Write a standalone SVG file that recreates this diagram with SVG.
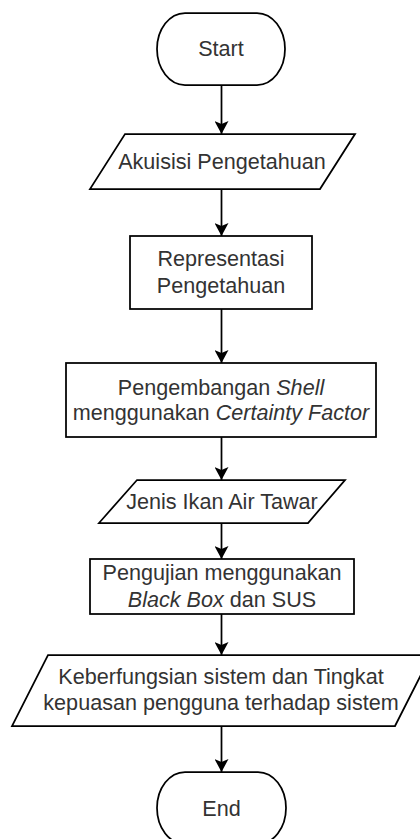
<svg xmlns="http://www.w3.org/2000/svg" width="420" height="839" viewBox="0 0 420 839">
<style>
.shape{fill:#ffffff;stroke:#000000;stroke-width:1.75}
.lbl{font-family:"Liberation Sans",Arial,Helvetica,sans-serif;font-size:21.6px;fill:#333333;text-anchor:middle}
.it{font-style:italic}
.edge{fill:none;stroke:#000000;stroke-width:1.75}
</style>
<defs>
<marker id="arrow" markerUnits="userSpaceOnUse" markerWidth="14" markerHeight="14" viewBox="0 0 13 14" refX="13" refY="7" orient="auto">
<path d="M0,0 L13,7 L0,14 L3,7 Z" fill="#000000"/>
</marker>
</defs>
<rect width="420" height="839" fill="#ffffff"/>
<g id="connectors">
<line class="edge" x1="221.5" y1="85" x2="221.5" y2="134" marker-end="url(#arrow)"/>
<line class="edge" x1="221.5" y1="189" x2="221.5" y2="236" marker-end="url(#arrow)"/>
<line class="edge" x1="221.5" y1="309" x2="221.5" y2="363" marker-end="url(#arrow)"/>
<line class="edge" x1="221.5" y1="437" x2="221.5" y2="480" marker-end="url(#arrow)"/>
<line class="edge" x1="221.5" y1="523" x2="221.5" y2="559" marker-end="url(#arrow)"/>
<line class="edge" x1="221.5" y1="614" x2="221.5" y2="655" marker-end="url(#arrow)"/>
<line class="edge" x1="221.5" y1="726" x2="221.5" y2="772" marker-end="url(#arrow)"/>
</g>
<g id="start">
<rect class="shape" x="157" y="13" width="128" height="72" rx="28" ry="36"/>
<text class="lbl" x="221" y="56">Start</text>
</g>
<g id="akuisisi">
<polygon class="shape" points="125,134 355,134 320,189 90,189"/>
<text class="lbl" x="222" y="169">Akuisisi Pengetahuan</text>
</g>
<g id="representasi">
<rect class="shape" x="130" y="236" width="182" height="73"/>
<text class="lbl" x="221" y="266">Representasi</text>
<text class="lbl" x="221" y="293">Pengetahuan</text>
</g>
<g id="pengembangan">
<rect class="shape" x="66" y="363" width="310" height="74"/>
<text class="lbl" x="221" y="395">Pengembangan <tspan class="it">Shell</tspan></text>
<text class="lbl" x="221" y="420">menggunakan <tspan class="it">Certainty Factor</tspan></text>
</g>
<g id="jenis">
<polygon class="shape" points="137,480 345,480 308,523 99,523"/>
<text class="lbl" x="222" y="509">Jenis Ikan Air Tawar</text>
</g>
<g id="pengujian">
<rect class="shape" x="90" y="559" width="264" height="55"/>
<text class="lbl" x="222" y="580">Pengujian menggunakan</text>
<text class="lbl" x="222" y="607"><tspan class="it">Black Box</tspan> dan SUS</text>
</g>
<g id="keberfungsian">
<polygon class="shape" points="48,655 431,655 395,726 12,726"/>
<text class="lbl" x="221" y="684">Keberfungsian sistem dan Tingkat</text>
<text class="lbl" x="221" y="710">kepuasan pengguna terhadap sistem</text>
</g>
<g id="end">
<rect class="shape" x="157" y="772" width="129" height="72" rx="28" ry="36"/>
<text class="lbl" x="221.5" y="816">End</text>
</g>
</svg>
